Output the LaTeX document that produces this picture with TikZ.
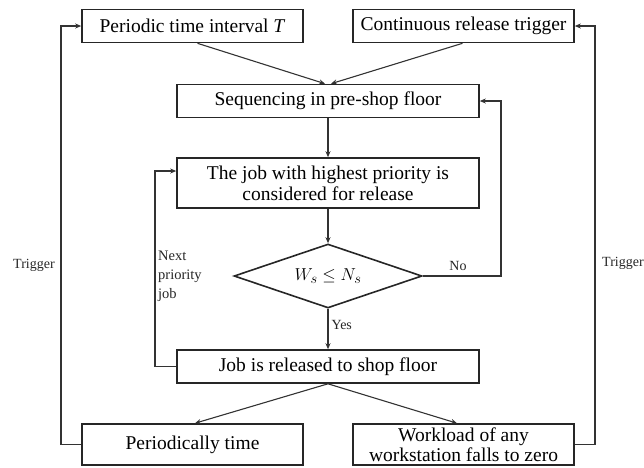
\documentclass[tikz,border=0pt]{standalone}
\usepackage{fontspec}
\setmainfont{Liberation Serif}
\usetikzlibrary{shapes.geometric,arrows.meta,calc}
\begin{document}
\begin{tikzpicture}[x=1pt,y=-1pt,
  box/.style={draw=black!85,line width=1.6pt,inner sep=0pt,minimum width=221pt,minimum height=33pt,
    align=center,font=\fontsize{19.5}{21}\selectfont},
  widebox/.style={box,minimum width=302pt},
  decision/.style={diamond,draw=black!85,line width=1.6pt,inner sep=0pt,minimum width=188pt,
    minimum height=64pt,aspect=2.94,font=\fontsize{19}{21}\selectfont},
  conn/.style={draw=black!80,line width=1.1pt,-{Stealth[length=6pt,width=5pt]}},
  lbl/.style={font=\fontsize{14}{17}\selectfont,inner sep=0pt,text=black!85}]
\useasboundingbox (0,0) rectangle (644,467);
\node[box] (b1) at (192.5,26) {Periodic time interval \textit{T}};
\node[box] (b2) at (463.5,26) {Continuous release trigger};
\node[widebox] (b3) at (328,101) {Sequencing in pre-shop floor};
\node[widebox,minimum height=50pt] (b4) at (328,183) {The job with highest priority is\\considered for release};
\node[decision] (d) at (328,276) {$W_s \leq N_s$};
\node[widebox] (b5) at (328,366.5) {Job is released to shop floor};
\node[box,minimum height=41pt] (b6) at (192.5,444.5) {Periodically time};
\node[box,minimum height=41pt,font=\fontsize{19.5}{20}\selectfont] (b7) at (463.5,444.5) {Workload of any\\workstation falls to zero};

\coordinate (noR) at (501,276);
\coordinate (nxL) at (155,366.5);
\coordinate (tL) at (61,444.5);
\coordinate (tR) at (595,444.5);

\draw[conn] ($(b1.south)+(5,0)$) -- ($(b3.north)+(-3,0)$);
\draw[conn] ($(b2.south)+(-1,0)$) -- ($(b3.north)+(3,0)$);
\draw[conn] (b3.south) -- (b4.north);
\draw[conn] (b4.south) -- (d.north);
\draw[conn] (d.south) -- node[lbl,right=3pt,pos=0.4]{Yes} (b5.north);
\draw[conn] (d.east) -- (noR) |- (b3.east);
\node[lbl] (nolbl) at (458,266) {No};
\draw[conn] (b5.west) -- (nxL) |- ($(b4.west)+(0,-12)$);
\node[lbl,anchor=north west,align=left,font=\fontsize{14.5}{19}\selectfont] (nxlbl) at (158,251) {Next\\priority\\job};
\draw[conn] (b5.south) -- ($(b6.north)+(2.5,0)$);
\draw[conn] (b5.south) -- ($(b7.north)+(-6.5,0)$);
\draw[conn] (b6.west) -- (tL) |- (b1.west);
\draw[conn] (b7.east) -- (tR) |- (b2.east);
\node[lbl,anchor=west] (trL) at (13,265) {Trigger};
\node[lbl,anchor=west] (trR) at (602,263) {Trigger};
\end{tikzpicture}
\end{document}
